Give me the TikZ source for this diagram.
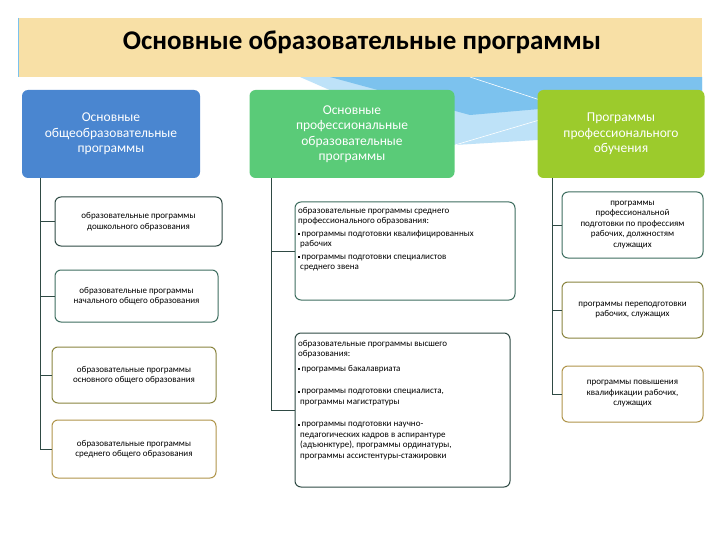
\documentclass[tikz,border=0pt]{standalone}
\usepackage{fontspec}
\setmainfont{Carlito}
\definecolor{band}{HTML}{F8E0A6}
\definecolor{hblue}{HTML}{4A86D0}
\definecolor{hgreen}{HTML}{5ACB78}
\definecolor{hlime}{HTML}{9CCB2C}
\definecolor{sky}{HTML}{7CC2EE}
\definecolor{skyl}{HTML}{BEE2F8}
\definecolor{bdark}{HTML}{2F4A44}
\definecolor{bteal}{HTML}{3E6E60}
\definecolor{bolive}{HTML}{8A8540}
\definecolor{btan}{HTML}{B0954A}
\newcommand{\bul}{\rule[0.3ex]{2pt}{2pt}\,}
\begin{document}
\begin{tikzpicture}[x=1pt,y=-1pt,
  head/.style={rounded corners=6pt,text=white,align=center,font=\fontsize{13.5}{15.5}\selectfont,inner sep=0pt},
  sub/.style={draw,line width=1pt,rounded corners=6pt,fill=white,align=center,font=\fontsize{9}{10.5}\selectfont,inner sep=2pt},
  ltext/.style={align=left,anchor=north west,font=\fontsize{9}{10.5}\selectfont,inner sep=0pt},
  conn/.style={draw=bdark,line width=0.6pt}]
\useasboundingbox (0,0) rectangle (720,540);
\fill[white] (0,0) rectangle (720,540);
% decorative wedges
\fill[skyl] (300,77) -- (702,77) -- (702,130) -- (455,145) -- cycle;
\fill[sky] (330,77) -- (702,77) -- (702,95) -- (470,115) -- cycle;
\draw[white,line width=0.6pt] (470,77) -- (540,100);
\draw[white,line width=0.6pt] (455,145) -- (590,105);
% title band
\node[fill=band,minimum width=684,minimum height=59,anchor=north west,inner sep=0pt] (title) at (18,18) {};
\draw[sky,line width=1pt] (18,18) -- (18,77);
\node[font=\bfseries\fontsize{27}{30}\selectfont] (tt) at (362,42) {Основные образовательные программы};
% headers
\node[head,fill=hblue,minimum width=178,minimum height=88] (h1) at (111,134) {Основные\\общеобразовательные\\программы};
\node[head,fill=hgreen,minimum width=205,minimum height=88] (h2) at (352,134) {Основные\\профессиональные\\образовательные\\программы};
\node[head,fill=hlime,minimum width=167,minimum height=88] (h3) at (621,134) {Программы\\профессионального\\обучения};
% column 1
\node[sub,draw=bdark,minimum width=167,minimum height=49] (a1) at (138.5,221.5) {образовательные программы\\дошкольного образования};
\node[sub,draw=bteal,minimum width=163,minimum height=52] (a2) at (136.5,296) {образовательные программы\\начального общего образования};
\node[sub,draw=bolive,minimum width=164,minimum height=56] (a3) at (134,375) {образовательные программы\\основного общего образования};
\node[sub,draw=btan,minimum width=164,minimum height=58] (a4) at (134,449) {образовательные программы\\среднего общего образования};
\coordinate (v1) at (40,178);
\draw[conn] (v1) |- (a4.west);
\draw[conn] (v1) |- (a1.west);
\draw[conn] (v1) |- (a2.west);
\draw[conn] (v1) |- (a3.west);
% column 2
\node[sub,draw=bteal,minimum width=220,minimum height=98] (c1) at (405,251) {};
\node[ltext] (c1t) at (298,207) {образовательные программы среднего\\профессионального образования:\\[2pt]\bul программы подготовки квалифицированных\\\ рабочих\\[2pt]\bul программы подготовки специалистов\\\ среднего звена};
\node[sub,draw=bdark,minimum width=215,minimum height=154] (c2) at (402.5,410) {};
\node[ltext] (c2t) at (298,340) {образовательные программы высшего\\образования:\\[4pt]\bul программы бакалавриата\\[12pt]\bul программы подготовки специалиста,\\\ программы магистратуры\\[12pt]\bul программы подготовки научно-\\\ педагогических кадров в аспирантуре\\\ (адъюнктуре), программы ординатуры,\\\ программы ассистентуры-стажировки};
\coordinate (v2) at (271,178);
\draw[conn] (v2) |- (c2.west);
\draw[conn] (v2) |- (c1.west);
% column 3
\node[sub,draw=bteal,minimum width=141,minimum height=66] (d1) at (632.5,225) {программы\\профессиональной\\подготовки по профессиям\\рабочих, должностям\\служащих};
\node[sub,draw=bolive,minimum width=141,minimum height=56] (d2) at (632.5,310) {программы переподготовки\\рабочих, служащих};
\node[sub,draw=btan,minimum width=141,minimum height=56] (d3) at (632.5,394) {программы повышения\\квалификации рабочих,\\служащих};
\coordinate (v3) at (552,178);
\draw[conn] (v3) |- (d3.west);
\draw[conn] (v3) |- (d1.west);
\draw[conn] (v3) |- (d2.west);
\end{tikzpicture}
\end{document}
